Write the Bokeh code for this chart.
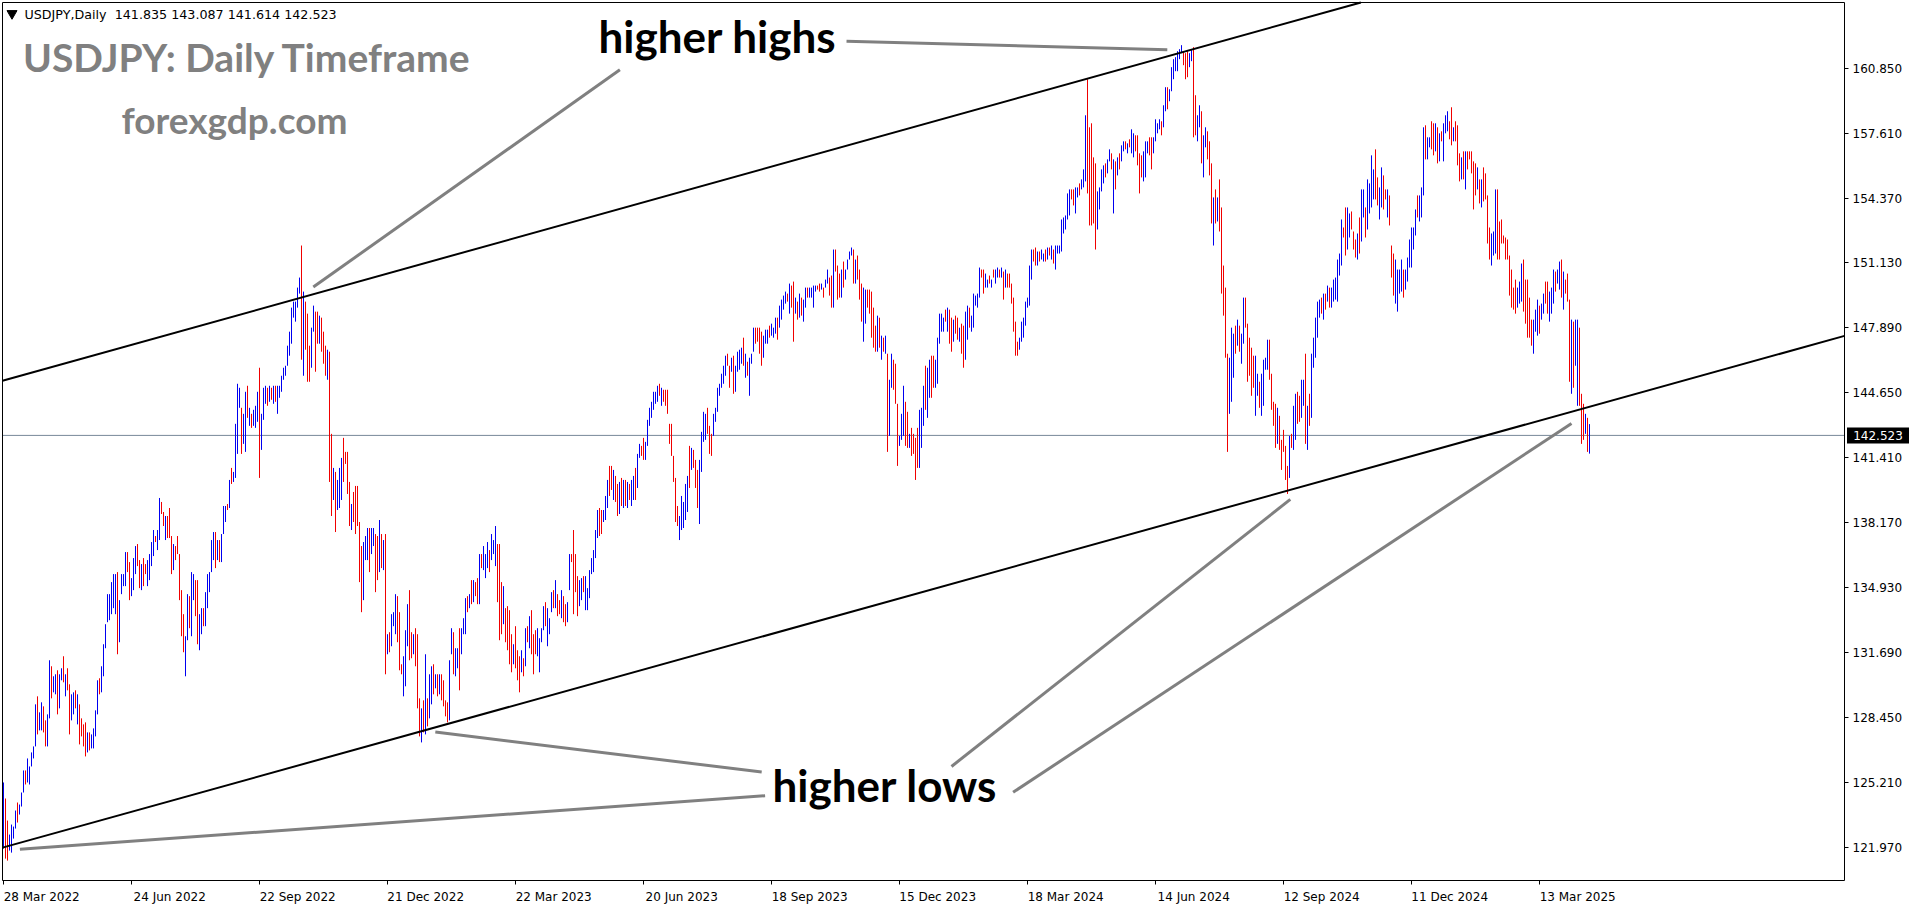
import numpy as np
from bokeh.plotting import figure
from bokeh.models import (Range1d, LinearAxis, FixedTicker, PrintfTickFormatter,
                          Label, ColumnDataSource)
from bokeh.core.properties import value
from bokeh.embed import file_html
from bokeh.resources import INLINE

SYMBOL = "USDJPY"
TIMEFRAME = "Daily"
last_ohlc = [141.835, 143.087, 141.614, 142.523]

# daily highs, one per bar (28 Mar 2022 ... 17 Apr 2025)
bar_high = [
    125.2,124.4,123.3,122.6,123.1,123.0,123.8,124.2,124.1,124.7,
    125.8,125.8,126.4,126.0,126.7,127.0,129.1,129.5,128.7,129.2,
    129.0,128.3,128.6,131.3,131.0,130.5,130.6,130.8,130.6,130.9,
    131.5,130.6,130.9,130.1,129.6,129.7,129.8,129.6,129.1,128.4,
    128.1,128.2,127.7,127.7,127.6,127.9,128.8,130.3,130.4,131.0,
    132.1,133.1,134.6,134.6,135.2,135.6,135.6,135.7,134.3,135.6,
    135.6,136.7,136.7,136.2,135.4,136.4,137.0,137.1,136.3,136.1,
    136.4,136.1,136.3,136.6,137.2,137.8,137.5,137.8,139.4,139.2,
    138.7,138.5,138.5,138.9,137.5,137.1,137.0,137.5,136.6,134.8,
    133.6,132.5,134.6,134.5,135.7,135.6,135.3,135.3,133.6,133.9,
    133.9,134.7,135.6,135.7,137.3,137.7,137.7,137.3,137.3,137.6,
    139.0,139.0,139.1,140.3,140.9,140.7,143.1,145.1,144.9,143.9,
    143.6,144.7,145.0,143.9,143.6,143.8,144.0,144.7,145.9,143.6,
    144.9,145.0,144.9,145.0,144.9,145.0,145.0,145.0,145.0,145.5,
    145.9,146.0,147.0,147.7,148.9,149.2,149.2,149.9,150.4,152.0,
    149.7,149.2,148.6,147.0,147.9,149.0,148.7,148.7,148.5,148.4,
    147.7,147.0,146.8,146.7,142.6,140.9,140.7,140.3,140.9,141.4,
    142.4,141.7,141.7,140.2,139.1,139.7,140.0,140.0,138.2,137.0,
    137.2,137.5,137.9,137.9,137.9,137.9,137.6,137.5,138.3,137.6,
    137.3,137.6,132.6,132.7,133.6,133.7,134.6,134.5,133.7,
    131.1,131.5,132.8,134.1,134.8,132.7,132.6,132.9,132.6,129.4,
    128.9,129.3,131.6,129.4,130.6,131.0,131.1,130.6,130.6,130.6,
    130.6,130.3,129.3,129.2,131.3,132.9,132.7,131.9,131.9,132.9,
    132.9,133.4,134.4,134.5,134.6,135.3,135.3,135.2,135.4,136.6,
    136.6,137.0,136.6,137.2,136.8,137.6,137.3,138.0,137.1,137.1,
    135.2,135.0,133.9,134.0,133.8,132.6,132.1,133.0,131.8,131.5,
    131.8,131.4,132.9,133.0,133.5,133.8,132.6,132.8,132.9,132.4,
    132.9,134.0,134.2,133.9,133.4,134.7,134.8,135.3,134.6,134.3,
    134.8,134.5,134.1,134.2,136.6,136.6,137.8,136.6,135.5,135.3,
    135.4,135.5,135.5,134.9,135.8,136.4,136.8,137.8,138.8,138.9,
    138.8,138.8,139.5,140.3,141.0,141.0,140.8,140.5,140.1,140.2,
    140.4,140.3,140.3,140.2,140.1,140.3,140.5,140.9,141.6,142.1,
    142.0,142.4,142.2,143.3,143.9,144.2,144.7,144.7,145.0,145.1,
    144.9,144.8,144.8,144.8,143.1,143.1,141.5,140.4,139.0,138.5,
    139.5,139.2,140.1,140.5,142.0,141.9,141.8,141.3,140.8,141.3,
    142.7,143.7,143.6,143.9,143.0,142.6,143.6,143.9,144.9,145.1,
    145.6,146.0,146.5,146.6,146.0,146.4,146.5,146.0,146.7,146.8,
    146.9,147.4,146.6,146.2,146.4,146.6,147.9,147.9,147.9,147.9,
    147.7,147.5,147.8,147.8,148.0,148.1,147.9,148.4,148.4,149.0,
    149.3,149.5,149.7,149.6,150.1,150.0,150.2,149.4,149.2,149.6,
    149.4,149.3,149.9,149.9,149.9,149.9,150.0,150.0,150.0,150.1,
    150.1,149.9,150.3,150.8,150.4,150.5,151.8,151.8,151.0,150.6,
    150.8,151.2,150.8,151.3,151.7,151.9,151.8,151.3,151.5,150.8,
    150.1,149.9,149.8,149.8,149.8,149.7,148.9,148.0,148.5,148.4,
    147.5,147.4,147.5,146.6,145.3,146.6,146.3,146.1,144.1,142.5,
    143.6,145.0,144.2,143.7,142.6,142.9,142.6,142.4,142.9,143.8,
    143.9,145.0,146.0,145.9,146.3,146.5,146.5,146.3,147.4,148.6,
    148.6,148.4,148.8,148.9,148.8,148.4,148.3,148.5,148.4,147.9,
    148.1,148.0,148.7,149.0,148.9,148.5,149.6,149.5,149.6,150.9,
    150.8,150.8,150.6,150.3,150.5,150.3,150.8,150.8,150.9,150.8,
    150.9,150.7,150.8,150.6,150.6,150.1,149.4,148.2,147.2,147.4,
    148.2,148.4,149.2,149.4,151.0,151.8,151.8,151.9,151.7,151.7,
    151.8,151.6,151.8,151.9,151.9,152.0,151.8,152.0,152.0,152.0,
    153.3,153.4,153.5,154.6,154.8,154.8,154.8,154.9,154.9,155.1,
    155.3,155.8,158.5,160.3,157.9,158.1,156.4,156.1,154.7,154.9,
    155.8,156.0,156.1,156.3,156.8,156.6,156.3,156.2,156.4,156.6,
    157.0,157.2,157.2,157.1,157.3,157.8,157.6,157.5,157.5,156.6,
    156.5,156.7,157.2,157.2,157.4,157.4,157.4,158.3,158.1,158.3,
    158.2,159.0,159.9,159.9,159.8,160.9,161.3,161.4,161.7,161.8,
    162.0,161.7,161.6,161.7,161.6,161.8,161.9,159.5,158.5,159.0,
    158.7,157.5,157.9,157.7,157.2,156.1,154.4,154.8,154.4,155.3,
    153.9,151.0,149.9,146.6,146.4,147.9,147.6,148.0,148.3,148.0,
    147.6,149.4,149.4,148.1,147.4,146.9,146.5,146.5,145.6,145.2,
    145.6,146.3,146.4,147.3,147.3,145.6,144.2,144.1,143.9,143.5,
    142.3,142.8,142.0,141.0,142.5,142.6,144.0,144.6,144.7,144.5,
    145.3,145.3,146.6,144.0,144.6,146.6,147.4,148.4,149.2,149.3,
    149.4,149.6,149.6,150.0,149.9,149.9,150.3,150.4,151.3,151.6,
    153.3,152.9,153.9,153.9,153.6,153.7,152.7,152.3,152.6,153.4,
    154.8,154.8,153.9,155.3,155.1,156.5,155.8,156.8,155.4,154.9,
    155.9,155.5,154.8,154.8,154.5,152.0,151.6,151.3,150.8,150.8,
    151.3,150.8,150.8,151.4,152.3,152.9,152.9,153.8,154.5,154.5,
    154.9,157.9,158.0,157.4,157.4,158.2,158.1,158.1,157.9,157.6,
    157.7,158.1,158.5,158.7,158.2,158.9,157.9,158.2,158.0,156.6,
    156.4,156.7,156.7,156.7,156.7,156.7,156.2,156.1,155.9,155.3,
    155.3,155.9,155.6,154.5,152.9,152.6,152.7,154.8,154.8,153.2,
    153.3,152.5,152.4,152.3,151.5,150.8,149.9,150.3,149.9,150.2,
    151.1,151.3,150.3,150.3,149.4,148.3,148.3,148.8,149.3,149.0,
    149.1,149.6,150.2,150.2,149.7,149.9,150.8,150.7,150.8,151.2,
    151.3,150.7,150.3,150.6,149.3,148.3,148.2,148.3,148.3,147.9,
    144.6,144.1,143.6,143.4,143.087,
]

# daily lows, one per bar
bar_low = [
    121.9,121.4,121.3,121.8,121.7,122.4,122.9,123.2,123.6,124.0,
    124.7,125.1,125.2,125.1,126.0,126.4,127.0,127.6,127.8,127.8,
    127.7,127.0,127.0,128.4,129.4,129.7,129.6,128.6,128.9,130.3,
    130.2,129.5,129.8,127.6,128.3,128.6,128.9,128.1,127.1,127.5,
    127.0,126.5,126.7,126.8,126.9,126.9,127.5,128.6,129.6,129.7,
    130.5,131.9,133.2,133.3,133.6,133.9,133.6,131.6,132.2,134.6,
    135.0,135.0,135.7,134.3,134.5,134.8,135.6,136.0,134.9,134.8,
    135.0,135.6,135.0,135.3,136.0,136.5,137.2,136.8,137.3,138.6,
    138.0,137.3,137.4,137.4,135.6,135.8,136.3,136.6,134.3,132.5,
    131.7,130.5,132.3,132.9,132.5,134.3,133.5,132.1,131.8,132.6,
    133.0,133.0,133.9,134.7,135.7,136.3,135.9,136.3,136.2,136.2,
    137.6,138.2,138.8,138.9,140.1,140.2,140.4,141.6,143.9,141.6,
    142.1,141.7,143.4,143.0,142.9,143.0,142.9,143.2,140.4,141.8,
    143.3,144.1,144.0,144.2,144.3,144.1,144.2,143.6,144.4,144.7,
    145.3,145.5,146.0,146.5,147.1,148.4,148.2,148.9,149.6,146.3,
    145.5,146.8,145.2,145.2,145.9,147.7,145.7,147.1,147.1,146.7,
    146.1,145.5,145.3,140.2,138.5,139.3,137.7,138.8,138.9,139.3,
    140.2,141.1,139.6,138.0,137.8,138.2,137.6,138.0,135.2,133.7,
    134.3,136.3,136.3,135.7,136.6,137.0,134.7,135.3,135.7,135.9,
    135.8,130.6,131.6,131.7,132.0,133.0,132.6,132.2,130.8,
    130.6,129.5,130.0,132.0,131.3,131.4,131.6,131.0,128.9,127.5,
    127.2,127.7,127.6,128.0,128.4,129.1,129.6,129.9,129.5,129.6,
    129.3,129.0,128.5,128.2,128.3,131.6,130.6,130.5,130.9,129.8,
    131.6,132.6,132.6,133.7,133.9,134.1,134.2,134.5,134.1,134.1,
    135.9,135.8,135.4,135.9,135.7,136.3,136.6,136.0,134.2,132.3,
    132.6,133.1,132.2,131.8,131.1,130.7,131.1,130.9,130.3,129.7,
    130.7,130.5,131.0,132.2,131.9,131.6,130.6,131.6,131.5,130.7,
    132.2,132.8,133.0,132.0,132.6,133.7,133.9,133.9,133.5,133.6,
    133.4,133.2,133.0,133.2,134.8,136.2,133.6,134.7,133.5,134.0,
    134.3,134.7,133.8,133.8,134.4,135.6,135.7,136.4,137.4,137.5,
    137.6,138.2,138.3,138.9,139.5,139.8,139.3,139.2,138.5,138.6,
    139.0,138.9,139.0,138.9,139.3,139.0,139.3,139.3,139.9,141.4,
    141.5,141.3,141.3,142.0,143.0,143.4,143.8,144.1,144.2,144.5,
    144.0,144.2,144.0,143.6,142.1,141.5,140.2,138.2,138.0,137.3,
    137.8,137.9,138.3,138.7,139.9,140.8,140.9,139.9,138.9,138.1,
    140.7,142.2,142.3,142.6,141.6,141.5,142.5,143.2,143.7,144.5,
    144.9,145.1,145.5,146.0,144.9,145.7,144.6,144.7,145.7,145.8,
    146.1,146.0,145.4,145.5,144.5,146.1,146.7,147.1,147.2,146.6,
    146.0,146.4,147.1,147.1,147.4,147.5,147.4,147.6,147.3,147.9,
    148.3,148.8,149.1,149.2,148.6,148.9,147.2,148.6,148.3,148.4,
    148.5,148.2,148.9,149.4,149.4,149.4,148.9,149.7,149.8,149.7,
    149.8,149.4,149.9,150.1,149.5,148.9,148.9,150.7,149.3,149.4,
    149.4,149.9,150.3,150.8,151.3,151.5,150.1,150.1,150.3,149.3,
    148.2,147.2,148.1,148.9,148.6,147.4,146.9,146.7,146.7,146.9,
    146.3,146.7,146.6,141.7,142.5,144.9,144.8,144.1,141.0,142.0,
    142.3,142.5,142.0,141.9,141.9,141.5,141.6,140.3,140.9,140.9,
    141.9,143.0,143.8,143.4,144.4,144.4,144.9,144.9,145.1,147.1,
    147.7,147.7,148.2,147.7,147.1,146.7,147.2,147.6,147.3,147.2,
    146.6,145.9,146.3,147.3,147.9,147.7,147.9,149.0,148.9,149.4,
    150.4,149.6,149.9,149.9,150.1,149.9,150.4,150.1,150.4,150.4,
    150.4,149.3,149.9,149.9,149.9,149.1,147.7,146.5,146.5,146.8,
    147.2,147.4,148.0,148.9,149.0,150.3,151.2,151.0,151.0,151.2,
    151.3,151.2,151.2,151.3,151.5,151.3,151.1,150.8,151.6,151.6,
    151.7,152.6,152.8,153.3,153.5,154.3,154.0,153.6,154.4,154.5,
    154.8,154.9,155.2,154.6,153.0,153.0,153.1,151.8,152.8,153.8,
    154.7,155.1,155.4,155.6,156.2,155.8,153.6,154.8,155.5,155.8,
    156.2,156.7,156.8,156.6,156.9,156.6,156.4,156.7,156.0,154.6,
    155.4,155.2,155.4,156.6,156.5,155.8,156.6,157.2,157.6,157.8,
    157.5,157.9,158.7,158.8,159.2,159.7,160.3,160.7,160.7,161.3,
    161.6,161.0,160.3,160.4,160.9,161.2,157.4,157.5,157.2,157.9,
    156.1,155.4,156.9,156.3,155.5,153.1,152.0,153.1,153.2,152.7,
    149.6,148.5,146.4,141.7,143.6,144.2,145.4,146.6,147.0,146.7,
    146.1,147.1,147.9,145.2,145.5,144.5,144.9,143.5,144.5,143.9,
    143.5,144.0,145.8,145.8,145.3,143.8,143.0,141.9,142.1,141.8,
    140.8,141.7,140.3,139.6,140.4,141.9,141.8,142.3,143.1,143.2,
    143.4,144.0,142.1,141.8,143.0,143.4,145.9,146.4,147.4,148.4,
    148.6,148.3,148.8,149.2,148.9,148.9,149.2,149.3,149.2,150.5,
    151.0,152.4,151.5,151.8,152.4,152.8,151.8,151.4,151.3,151.6,
    152.2,153.4,152.4,152.8,153.6,153.9,154.3,154.3,154.0,153.3,
    153.9,153.8,154.3,153.4,153.0,150.4,149.5,149.1,148.7,149.6,
    149.7,149.4,149.8,150.2,150.9,150.9,151.8,152.5,153.4,153.2,
    153.4,154.5,156.3,156.3,156.9,156.8,156.5,156.7,156.1,156.2,
    157.2,156.2,157.6,157.7,157.3,157.0,157.2,157.2,156.0,155.2,
    155.3,155.3,154.8,155.8,156.3,155.6,153.8,154.5,154.8,154.1,
    153.9,154.2,154.3,152.1,151.3,151.0,151.5,151.6,151.3,151.3,
    152.1,152.1,151.3,151.3,149.5,148.9,148.8,148.6,148.9,149.1,
    149.2,148.7,148.1,147.4,147.4,147.0,146.6,147.7,147.5,147.6,
    148.3,148.6,149.1,148.6,148.2,148.6,149.1,149.7,150.1,149.8,
    149.4,148.8,149.6,149.2,145.2,144.6,144.9,146.0,144.0,144.0,
    142.1,142.3,142.6,141.7,141.614,
]

# bar direction: u = close above open (blue), d = close below open (red)
bar_dir = (
    "udduuuuduu uduuuuuduu dduuduuduu dudduududd dduduuuudu "
    "uuuuuuuduu uudduuuddu dduuuuduud dudddudddd duuduudduu "
    "duuuuududu uududuuuud uududuuudu uudududuuu uuuuuuuuud "
    "uddduuddud ddudduduuu dddduddddd uuuduuddud ududuuudd "
    "duuudduddd ududuududu dddduuduud uuudududdu duuuduuudd "
    "dudddduddd udududdduu uuduuududd udduuddddu uduuuuuuud "
    "duuudduddu dududuuduu dduuuuuuud uddddddddu uuuududddu "
    "uuuddduuuu uuudduduuu ududuuuddd duuuduuudu uuududdudu "
    "duuduuuudd uduudduddd uduuuududd duudddddud ududuudddu "
    "uudduddddu uuduudduuu uududduddu dduuduuuuu dduududuud "
    "ududdddddu uuuuuuddud uudududuuu uuuuudduud uuuddddduu "
    "uuduududud uududuuddd duuudduuuu duuduuuuuu uddduudduu "
    "duudddudud dddduuudud uuddddduud uuuuddddud dddduduudd "
    "uududuuuuu dududuuuuu udduudddud uuduuuuddu udduddduuu "
    "uduuuuuudu uuduuddudu duuudduddd ududddddud udddduuudd "
    "dddddddduu uddddduuud uudduuuduu duddduduud ddudu"
).replace(" ", "")

date_tick_bars = [0, 64, 128, 192, 256, 320, 384, 448, 512, 576, 640, 704, 768]
date_tick_labels = ["28 Mar 2022", "24 Jun 2022", "22 Sep 2022", "21 Dec 2022",
                    "22 Mar 2023", "20 Jun 2023", "18 Sep 2023", "15 Dec 2023",
                    "18 Mar 2024", "14 Jun 2024", "12 Sep 2024", "11 Dec 2024",
                    "13 Mar 2025"]
price_ticks = [121.970, 125.210, 128.450, 131.690, 134.930, 138.170, 141.410,
               144.650, 147.890, 151.130, 154.370, 157.610, 160.850]

# channel trendlines (bar index, price)
upper_channel_bar = [-0.5, 678.7]
upper_channel_price = [145.25, 164.13]
lower_channel_bar = [-0.5, 920.5]
lower_channel_price = [121.95, 147.49]

# annotation pointer lines: from label to swing point (bar index, price)
hh_from_bar = [308.2, 421.5]
hh_from_price = [160.77, 162.20]
hh_to_bar = [154.9, 581.9]
hh_to_price = [149.93, 161.77]
hl_from_bar = [379.1, 380.8, 474.0, 504.8]
hl_from_price = [125.72, 124.54, 126.00, 124.71]
hl_to_bar = [215.9, 8.2, 643.4, 784.0]
hl_to_price = [127.72, 121.87, 139.33, 143.12]

n = len(bar_high)
assert len(bar_low) == n and len(bar_dir) == n, (n, len(bar_low), len(bar_dir))

# ---------------- layout (pixels of the canvas) ----------------
W, H = 1912, 904
BAR0_PX = 3.0          # x pixel of bar 0 (integer: crisp 1px bar lines)
PX_PER_BAR = 2.0
REF_PRICE, REF_PRICE_PX = 160.85, 67.7
PX_PER_YEN = 20.036
CH_L, CH_T, CH_R, CH_B = 2, 2, 1844, 880   # chart window border


def bx(px):
    return (px - BAR0_PX) / PX_PER_BAR


def py(px):
    return REF_PRICE - (px - REF_PRICE_PX) / PX_PER_YEN


UP_COLOR = "#0000F0"
DOWN_COLOR = "#F00000"
AXIS_FONT = "DejaVu Sans"

src = ColumnDataSource(dict(
    x=np.arange(n),
    hi=bar_high,
    lo=bar_low,
    color=[UP_COLOR if d == "u" else DOWN_COLOR for d in bar_dir],
))

p = figure(width=W, height=H,
           x_range=Range1d(bx(0), bx(W)), y_range=Range1d(py(H), py(0)),
           x_axis_type=None, y_axis_type=None, title=None,
           output_backend="svg", toolbar_location=None, min_border=0)
p.background_fill_color = "white"
p.border_fill_color = "white"
p.outline_line_color = None

# current price line
p.line([bx(CH_L), bx(CH_R)], [last_ohlc[3], last_ohlc[3]], line_color="#778899", line_width=1)

# OHLC bars (high-low lines)
p.segment(x0="x", y0="lo", x1="x", y1="hi", line_color="color", line_width=1, source=src)

# channel lines
p.line(upper_channel_bar, upper_channel_price, line_color="black", line_width=2)
p.line(lower_channel_bar, lower_channel_price, line_color="black", line_width=2)

# pointer lines
xs = [[a, b] for a, b in zip(hh_from_bar, hh_to_bar)] + [[a, b] for a, b in zip(hl_from_bar, hl_to_bar)]
ys = [[a, b] for a, b in zip(hh_from_price, hh_to_price)] + [[a, b] for a, b in zip(hl_from_price, hl_to_price)]
p.multi_line(xs, ys, line_color="#808080", line_width=3)

# chart window border
p.line([bx(CH_L), bx(CH_L), bx(CH_R), bx(CH_R), bx(CH_L)],
       [py(CH_B), py(CH_T), py(CH_T), py(CH_B), py(CH_B)],
       line_color="black", line_width=1)

# date axis (labels start at their tick, as in the terminal)
label_shift = 19.1
xaxis = LinearAxis(fixed_location=py(CH_B),
                   ticker=FixedTicker(ticks=[b + label_shift for b in date_tick_bars],
                                      minor_ticks=date_tick_bars))
xaxis.major_label_overrides = {b + label_shift: t for b, t in zip(date_tick_bars, date_tick_labels)}
xaxis.axis_line_color = None
xaxis.major_tick_line_color = None
xaxis.major_tick_out = 0
xaxis.major_tick_in = 0
xaxis.minor_tick_out = 4
xaxis.minor_tick_in = 0
xaxis.minor_tick_line_color = "black"
xaxis.major_label_standoff = 5
xaxis.major_label_text_font = AXIS_FONT
xaxis.major_label_text_font_size = "12px"
xaxis.major_label_text_color = "black"
p.add_layout(xaxis, "below")

# price axis
yaxis = LinearAxis(fixed_location=bx(CH_R), ticker=FixedTicker(ticks=price_ticks),
                   formatter=PrintfTickFormatter(format="%.3f"))
yaxis.axis_line_color = None
yaxis.major_tick_out = 4
yaxis.major_tick_in = 0
yaxis.major_tick_line_color = "black"
yaxis.minor_tick_line_color = None
yaxis.major_label_standoff = 4
yaxis.major_label_text_font = AXIS_FONT
yaxis.major_label_text_font_size = "12px"
yaxis.major_label_text_color = "black"
p.add_layout(yaxis, "right")

# current price tag
p.rect(x=[bx(1877.5)], y=[last_ohlc[3]], width=62, height=16,
       width_units="screen", height_units="screen", fill_color="black", line_color=None)
p.text(x=[bx(1877.5)], y=[last_ohlc[3]], text=["%.3f" % last_ohlc[3]],
       text_font=value(AXIS_FONT), text_font_size="12px", text_color="white",
       text_align="center", text_baseline="middle")

# header
p.scatter(x=[bx(11.5)], y=[py(13.0)], marker="inverted_triangle", size=10,
          fill_color="black", line_color="black")
header = "%s,%s \u00a0%s" % (SYMBOL, TIMEFRAME, " ".join("%.3f" % v for v in last_ohlc))
p.add_layout(Label(x=bx(24), y=py(13.9), text=header, text_font=AXIS_FONT,
                   text_font_size="12.7px", text_color="black", text_baseline="middle"))

# titles
p.add_layout(Label(x=bx(22.5), y=py(56.2), text="%s: %s Timeframe" % (SYMBOL, TIMEFRAME),
                   text_font="Lato", text_font_style="bold", text_font_size="39px",
                   text_color="#808080", text_baseline="middle"))
p.add_layout(Label(x=bx(121), y=py(118.8), text="forexgdp.com",
                   text_font="Lato", text_font_style="bold", text_font_size="37px",
                   text_color="#808080", text_baseline="middle"))

# annotations
p.add_layout(Label(x=bx(598), y=py(35.7), text="higher highs", text_font="Lato",
                   text_font_style="bold", text_font_size="44px", text_color="black",
                   text_baseline="middle"))
p.add_layout(Label(x=bx(772), y=py(784.7), text="higher lows", text_font="Lato",
                   text_font_style="bold", text_font_size="44px", text_color="black",
                   text_baseline="middle"))

open("out.html", "w").write(file_html(p, INLINE))
